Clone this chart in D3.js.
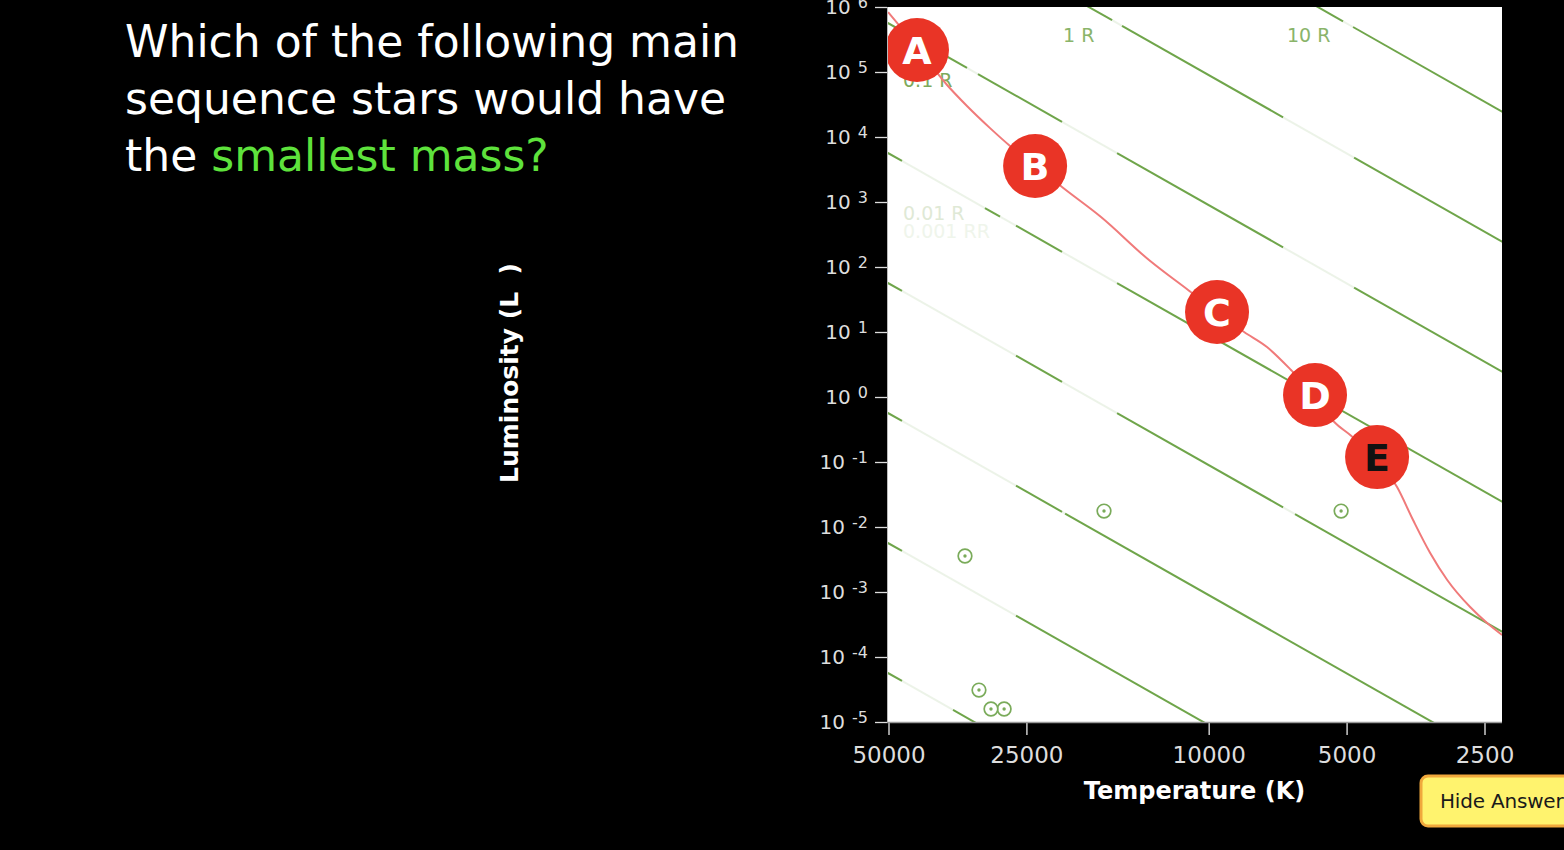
<!DOCTYPE html>
<html><head><meta charset="utf-8">
<script src="https://cdn.jsdelivr.net/npm/d3@7"></script>
<style>html,body{margin:0;padding:0;background:#000;overflow:hidden}</style>
</head><body>
<svg id="chart" width="1564" height="850"></svg>
<script>
// ---------------- DATA ----------------
const questionLines = ["Which of the following main", "sequence stars would have", "the "];
const questionHighlight = "smallest mass?";

const tempTicks = [50000, 25000, 10000, 5000, 2500];
const lumTickExponents = [6, 5, 4, 3, 2, 1, 0, -1, -2, -3, -4, -5];

// main sequence curve (Temperature K, Luminosity L_sun)
const msTemp = [50100, 43330, 37250, 33700, 30010, 27140, 23930, 20900, 17180, 13500, 11090, 9590, 8370, 7460, 6610, 5860, 5320, 4910, 4290, 3880, 3580, 3285, 3015, 2687, 2467, 2288];
const msLum  = [8.37e5, 2.43e5, 6.31e4, 3.0e4, 1.37e4, 7.28e3, 3.71e3, 1.70e3, 587, 128, 44.3, 20.3, 10.0, 5.87, 2.60, 1.03, 0.412, 0.260, 0.107, 0.0412, 0.0128, 0.00398, 0.00153, 5.87e-4, 3.33e-4, 2.18e-4];

// lettered stars
const starLetters = ["A", "B", "C", "D", "E"];
const starTemp = [43330, 23930, 9590, 5860, 4290];
const starLum  = [2.18e5, 3.58e3, 20.3, 1.07, 0.119];

// constant-radius lines (R in solar radii) and their faded temperature intervals
const radii = [1000, 100, 10, 1, 0.1, 0.01, 0.001, 0.0001];
const radiusFades = [
  [[5090, 4840]],
  [[16250, 15460], [6880, 4815]],
  [[33700, 31890], [20900, 15850], [6880, 4815]],
  [[46720, 30790], [28540, 26340], [20900, 15850]],
  [[46720, 26340], [20900, 15850], [6880, 6480]],
  [[46720, 26340], [20900, 20580]],
  [[46720, 26340]],
  [[46720, 36150]]
];
const sunTemperature = 5778;

// radius labels as shown
const radiusLabelText = ["10 R", "1 R", "0.1 R", "0.01 R", "0.001 RR"];
const radiusLabelTemp = [6745, 20790, 46480, 46480, 46480];
const radiusLabelLum  = [2.89e5, 2.89e5, 5.87e4, 528, 279];

// sun symbols
const sunSymTemp = [27960, 29870, 16925, 5140, 34040, 31730];
const sunSymLum  = [1.585e-5, 1.585e-5, 0.0176, 0.0176, 3.58e-3, 3.10e-5];

const xTitle = "Temperature (K)";
const yTitle = "Luminosity (L  )";
const buttonText = "Hide Answer";

// ---------------- DRAW ----------------
const svg = d3.select("#chart");
const P = {left: 887, right: 1502, top: 7, bottom: 722};

const x = d3.scaleLog().domain([50000, 2500]).range([888.5, 1484.5]);
const y = d3.scaleLog().domain([1e-5, 1e6]).range([722, 7]);

svg.append("rect").attr("width", 1564).attr("height", 850).attr("fill", "#000");

// question
const q = svg.append("text").attr("font-family", "DejaVu Sans").attr("font-size", 44).attr("fill", "#fff");
questionLines.forEach((s, i) => {
  q.append("tspan").attr("x", 125).attr("y", 57 + i * 57).text(s);
});
q.append("tspan").attr("fill", "#5ee23c").text(questionHighlight);

// plot background
svg.append("rect").attr("x", P.left).attr("y", P.top).attr("width", P.right - P.left).attr("height", P.bottom - P.top).attr("fill", "#fff");

svg.append("clipPath").attr("id", "clip").append("rect")
  .attr("x", P.left).attr("y", P.top).attr("width", P.right - P.left).attr("height", P.bottom - P.top);
const gp = svg.append("g").attr("clip-path", "url(#clip)");

// radius lines
const lum = (R, T) => R * R * Math.pow(T / sunTemperature, 4);
const seg = d3.line().x(d => x(d[0])).y(d => y(d[1]));
radii.forEach((R, i) => {
  const fades = radiusFades[i];
  const pts = [60000];
  fades.forEach(f => { pts.push(f[0], f[1]); });
  pts.push(1800);
  for (let k = 0; k < pts.length - 1; k++) {
    const faded = k % 2 === 1;
    gp.append("path")
      .attr("d", seg([[pts[k], lum(R, pts[k])], [pts[k + 1], lum(R, pts[k + 1])]]))
      .attr("fill", "none")
      .attr("stroke", "#6fa54a")
      .attr("stroke-width", 2)
      .attr("stroke-opacity", faded ? 0.13 : 1);
  }
});

// radius labels
const labelColors = ["#8ab46a", "#8ab46a", "#7eaa5c", "#dfe9d6", "#eff5eb"];
radiusLabelText.forEach((t, i) => {
  gp.append("text").attr("x", x(radiusLabelTemp[i])).attr("y", y(radiusLabelLum[i]))
    .attr("font-family", "DejaVu Sans").attr("font-size", 19).attr("fill", labelColors[i]).text(t);
});

// sun symbols
sunSymTemp.forEach((T, i) => {
  const g = gp.append("g").attr("transform", `translate(${x(T)},${y(sunSymLum[i])})`);
  g.append("circle").attr("r", 6.8).attr("fill", "#fff").attr("stroke", "#7aab5a").attr("stroke-width", 1.7);
  g.append("circle").attr("r", 1.7).attr("fill", "#7aab5a");
});

// main sequence curve
const msData = msTemp.map((T, i) => [T, msLum[i]]);
gp.append("path")
  .attr("d", d3.line().x(d => x(d[0])).y(d => y(d[1])).curve(d3.curveMonotoneX)(msData))
  .attr("fill", "none").attr("stroke", "#f07a7a").attr("stroke-width", 2);

// lettered circles
starLetters.forEach((L, i) => {
  const g = gp.append("g").attr("transform", `translate(${x(starTemp[i])},${y(starLum[i])})`);
  g.append("circle").attr("r", 32).attr("fill", "#e93426");
  g.append("text").attr("text-anchor", "middle").attr("y", 14)
    .attr("font-family", "DejaVu Sans").attr("font-weight", "bold").attr("font-size", 38)
    .attr("fill", L === "E" ? "#111" : "#fff").text(L);
});

// y axis
const majors = lumTickExponents.map(e => Math.pow(10, e));
const minors = y.ticks().filter(v => Math.abs(Math.log10(v) - Math.round(Math.log10(v))) > 1e-6);
const gyMinor = svg.append("g").attr("transform", `translate(${P.left},0)`)
  .call(d3.axisLeft(y).tickValues(minors).tickSize(5).tickFormat(""));
const gy = svg.append("g").attr("transform", `translate(${P.left},0)`)
  .call(d3.axisLeft(y).tickValues(majors).tickSize(12).tickPadding(7).tickFormat(""));
[gyMinor, gy].forEach(g => {
  g.select(".domain").attr("stroke", "#bbb");
  g.selectAll(".tick line").attr("stroke", "#ddd").attr("stroke-width", 1.3);
});
gy.selectAll(".tick text").each(function(d) {
  const t = d3.select(this);
  t.attr("font-family", "DejaVu Sans").attr("font-size", 20).attr("fill", "#ddd");
  t.append("tspan").text("10");
  t.append("tspan").attr("dx", 7).attr("dy", -6).attr("font-size", 16).text(Math.round(Math.log10(d)));
});

// x axis
const gx = svg.append("g").attr("transform", `translate(0,${P.bottom})`)
  .call(d3.axisBottom(x).tickValues(tempTicks).tickSize(13).tickSizeOuter(0).tickPadding(12).tickFormat(d3.format("d")));
gx.select(".domain").remove();
gx.selectAll(".tick line").attr("stroke", "#ccc").attr("stroke-width", 1.5);
gx.selectAll(".tick text").attr("font-family", "DejaVu Sans").attr("font-size", 23).attr("fill", "#ddd");
svg.append("line").attr("x1", P.left).attr("x2", P.right).attr("y1", P.bottom + 0.5).attr("y2", P.bottom + 0.5)
  .attr("stroke", "#999").attr("stroke-width", 1.5);

// titles
svg.append("text").attr("x", (P.left + P.right) / 2).attr("y", 799).attr("text-anchor", "middle")
  .attr("font-family", "DejaVu Sans").attr("font-weight", "bold").attr("font-size", 24).attr("fill", "#fff").text(xTitle);
svg.append("text").attr("transform", "translate(518,373) rotate(-90)").attr("text-anchor", "middle")
  .attr("font-family", "DejaVu Sans").attr("font-weight", "bold").attr("font-size", 25).attr("fill", "#fff")
  .attr("xml:space", "preserve").style("white-space", "pre").text(yTitle);

// button
svg.append("rect").attr("x", 1421).attr("y", 776).attr("width", 200).attr("height", 50).attr("rx", 7)
  .attr("fill", "#fff36e").attr("stroke", "#f0a83c").attr("stroke-width", 3);
svg.append("text").attr("x", 1440).attr("y", 808).attr("font-family", "DejaVu Sans").attr("font-size", 20)
  .attr("letter-spacing", -0.2).attr("fill", "#1a1a1a").text(buttonText);
</script>
</body></html>
